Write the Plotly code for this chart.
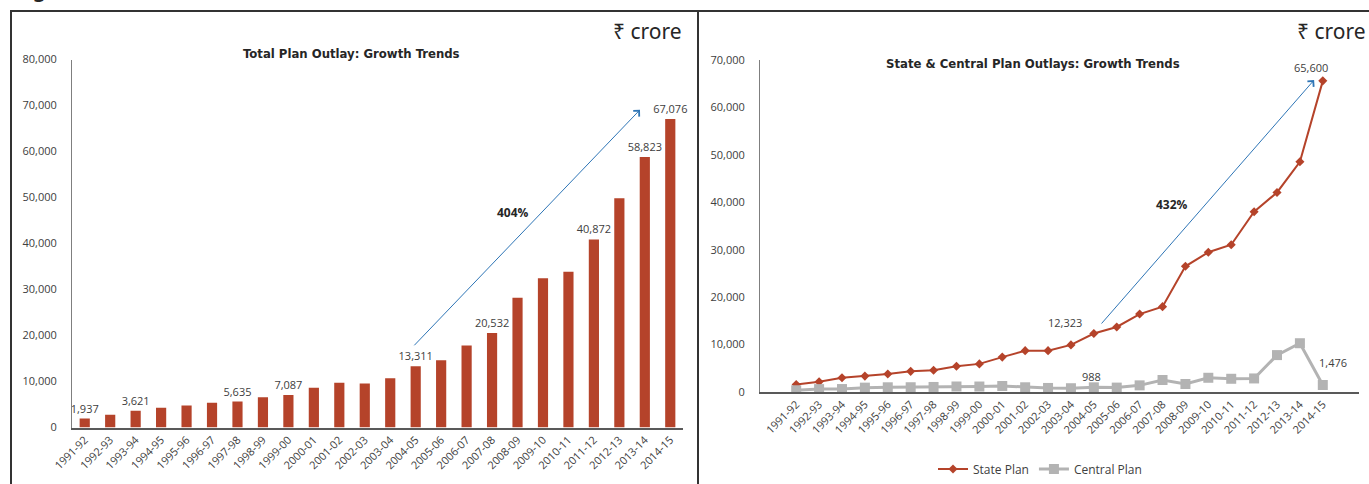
import plotly.graph_objects as go

W, H = 1369, 484

years = ["1991-92", "1992-93", "1993-94", "1994-95", "1995-96", "1996-97", "1997-98",
         "1998-99", "1999-00", "2000-01", "2001-02", "2002-03", "2003-04", "2004-05",
         "2005-06", "2006-07", "2007-08", "2008-09", "2009-10", "2010-11", "2011-12",
         "2012-13", "2013-14", "2014-15"]

total_plan = [1937, 2750, 3621, 4275, 4780, 5360, 5635, 6590, 7087, 8620, 9710, 9565,
              10725, 13311, 14640, 17830, 20532, 28190, 32460, 33840, 40872, 49850,
              58823, 67076]

state_plan = [1571, 2140, 3000, 3357, 3786, 4357, 4571, 5429, 5929, 7357, 8714, 8714,
              9929, 12323, 13714, 16430, 18000, 26500, 29460, 31050, 38015, 42070,
              48540, 65600]

central_plan = [366, 610, 621, 918, 994, 1003, 1064, 1161, 1158, 1263, 996, 851,
                796, 988, 926, 1400, 2532, 1690, 3000, 2790, 2857, 7780, 10283, 1476]

bar_labels = ["1,937", "", "3,621", "", "", "", "5,635", "", "7,087", "", "", "",
              "", "13,311", "", "", "20,532", "", "", "", "40,872", "", "58,823", "67,076"]

RED = "#B5432A"
GREY = "#B3B3B3"
BLUE = "#2E75B6"
TXT = "#404040"
NUMFONT = "Open Sans, Lato, sans-serif"
TITLEFONT = "Liberation Sans Narrow, DejaVu Sans Condensed, sans-serif"


def px(x):
    return x / W


def py(y):
    return 1 - y / H


fig = go.Figure()

fig.add_trace(go.Bar(
    x=years, y=total_plan, marker=dict(color=RED, line=dict(width=0)),
    text=bar_labels, textposition="outside", cliponaxis=False, constraintext="none",
    textfont=dict(size=11, color=TXT, family=NUMFONT),
    xaxis="x", yaxis="y", showlegend=False,
))

fig.add_trace(go.Scatter(
    x=years, y=state_plan, mode="lines+markers", name="State Plan",
    line=dict(color=RED, width=2), marker=dict(symbol="diamond", size=7, color=RED),
    xaxis="x2", yaxis="y2",
))
fig.add_trace(go.Scatter(
    x=years, y=central_plan, mode="lines+markers", name="Central Plan",
    line=dict(color=GREY, width=3), marker=dict(symbol="square", size=10, color=GREY),
    xaxis="x2", yaxis="y2",
))

axis_common = dict(showgrid=False, zeroline=False, ticks="", automargin=False,
                   tickfont=dict(size=11, color=TXT, family=NUMFONT))

fig.update_layout(
    width=W, height=H, margin=dict(l=0, r=0, t=0, b=0, pad=0, autoexpand=False),
    paper_bgcolor="white", plot_bgcolor="white",
    bargap=0.6,
    xaxis=dict(domain=[px(72), px(683)], type="category", tickangle=-45,
               showline=True, linecolor="#595959", linewidth=1.5, anchor="y", **axis_common),
    yaxis=dict(domain=[py(427.5), py(59.5)], range=[0, 80000], tickvals=list(range(0, 80001, 10000)),
               tickformat=",d", showline=True, linecolor="#7F7F7F", linewidth=1,
               ticklabelstandoff=12, anchor="x", **axis_common),
    xaxis2=dict(domain=[px(760), px(1359)], type="category", tickangle=-45,
                showline=True, linecolor="#595959", linewidth=1.5, anchor="y2", **axis_common),
    yaxis2=dict(domain=[py(392), py(60)], range=[0, 70000], tickvals=list(range(0, 70001, 10000)),
                tickformat=",d", showline=True, linecolor="#7F7F7F", linewidth=1,
                ticklabelstandoff=12, anchor="x2", **axis_common),
    legend=dict(orientation="h", x=px(1040), xanchor="center", y=py(469), yanchor="middle",
                font=dict(size=12, color=TXT, family=NUMFONT), itemwidth=30, tracegroupgap=0),
)

annotations = [
    # headers
    dict(text="₹ crore", x=px(684), y=py(31), xref="paper", yref="paper", xanchor="right",
         yanchor="middle", showarrow=False, font=dict(size=21, color="#262626", family="Noto Sans, Open Sans, sans-serif")),
    dict(text="₹ crore", x=px(1368), y=py(31), xref="paper", yref="paper", xanchor="right",
         yanchor="middle", showarrow=False, font=dict(size=21, color="#262626", family="Noto Sans, Open Sans, sans-serif")),
    dict(text="<b>Total Plan Outlay: Growth Trends</b>", x=px(351), y=py(54), xref="paper", yref="paper",
         xanchor="center", yanchor="middle", showarrow=False, font=dict(size=13, color="#262626", family=TITLEFONT)),
    dict(text="<b>State &amp; Central Plan Outlays: Growth Trends</b>", x=px(1033), y=py(63), xref="paper", yref="paper",
         xanchor="center", yanchor="middle", showarrow=False, font=dict(size=13, color="#262626", family=TITLEFONT)),
    dict(text="<b>Figure</b>", x=px(10), y=py(5), xref="paper", yref="paper", xanchor="left",
         yanchor="bottom", showarrow=False, font=dict(size=22, color="#262626", family=TITLEFONT)),
    # left arrow + label
    dict(x=21.81, y=69065, ax=12.89, ay=17543, xref="x", yref="y", axref="x", ayref="y",
         text="", showarrow=True, arrowhead=4, arrowsize=1.6, arrowwidth=1, arrowcolor=BLUE),
    dict(text="<b>404%</b>", x=16.82, y=46670, xref="x", yref="y", showarrow=False,
         font=dict(size=12, color="#262626", family=NUMFONT)),
    # right arrow + label
    dict(x=22.62, y=65780, ax=13.28, ay=14126, xref="x2", yref="y2", axref="x2", ayref="y2",
         text="", showarrow=True, arrowhead=4, arrowsize=1.6, arrowwidth=1, arrowcolor=BLUE),
    dict(text="<b>432%</b>", x=16.41, y=39637, xref="x2", yref="y2", showarrow=False,
         font=dict(size=12, color="#262626", family=NUMFONT)),
    # right point labels
    dict(text="65,600", x=years[23], y=state_plan[23], xref="x2", yref="y2", showarrow=False,
         xshift=-12, yshift=13, font=dict(size=11, color=TXT, family=NUMFONT)),
    dict(text="12,323", x=years[13], y=state_plan[13], xref="x2", yref="y2", showarrow=False,
         xshift=-29, yshift=11, font=dict(size=11, color=TXT, family=NUMFONT)),
    dict(text="988", x=years[13], y=central_plan[13], xref="x2", yref="y2", showarrow=False,
         xshift=-2, yshift=11, font=dict(size=11, color=TXT, family=NUMFONT)),
    dict(text="1,476", x=years[23], y=central_plan[23], xref="x2", yref="y2", showarrow=False,
         xshift=-6, yshift=23, xanchor="left", font=dict(size=11, color=TXT, family=NUMFONT)),
]
fig.update_layout(annotations=annotations)

border = dict(color="#333333", width=2)
fig.update_layout(shapes=[
    dict(type="line", xref="paper", yref="paper", x0=px(10), x1=1, y0=py(11), y1=py(11), line=border),
    dict(type="line", xref="paper", yref="paper", x0=px(11), x1=px(11), y0=py(10), y1=0, line=border),
    dict(type="line", xref="paper", yref="paper", x0=px(698), x1=px(698), y0=py(10), y1=0, line=border),
])

fig.write_html("out.html",
               config={"displayModeBar": False},
               post_script="document.body.style.margin='0';document.body.style.overflow='hidden';")
